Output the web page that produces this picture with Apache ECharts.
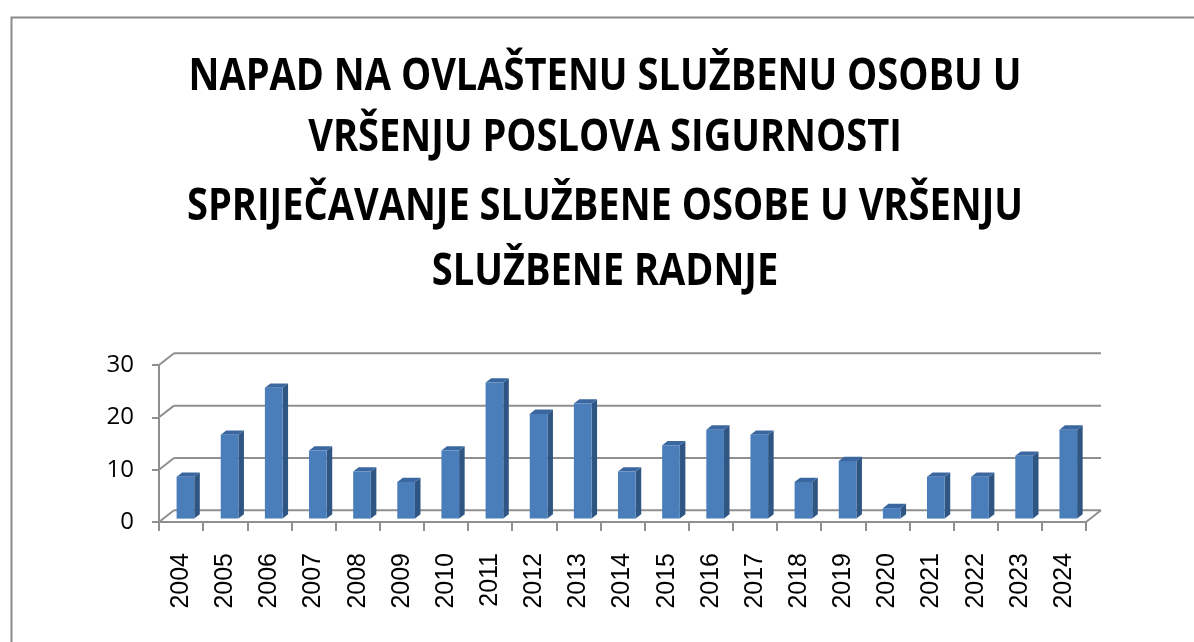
<!DOCTYPE html>
<html>
<head>
<meta charset="utf-8">
<script src="https://cdn.jsdelivr.net/npm/echarts@6/dist/echarts.min.js"></script>
<style>
  html, body { margin: 0; padding: 0; background: #ffffff; }
  #chart { width: 1194px; height: 642px; }
</style>
</head>
<body>
<div id="chart"></div>
<script>
// Yearly counts, 2004–2024
const years = ['2004', '2005', '2006', '2007', '2008', '2009', '2010', '2011', '2012', '2013', '2014',
               '2015', '2016', '2017', '2018', '2019', '2020', '2021', '2022', '2023', '2024'];
const cases = [8, 16, 25, 13, 9, 7, 13, 26, 20, 22, 9, 14, 17, 16, 7, 11, 2, 8, 8, 12, 17];
const yTicks = [0, 10, 20, 30];
const titleLines = [
  'NAPAD NA OVLAŠTENU SLUŽBENU OSOBU U',
  'VRŠENJU POSLOVA SIGURNOSTI',
  'SPRIJEČAVANJE SLUŽBENE OSOBE U VRŠENJU',
  'SLUŽBENE RADNJE'
];

// Pseudo-3D geometry (pixels / fractions)
const DEPTH_X = 15, DEPTH_Y = -11.7;   // offset from front plane to back wall
const BAR_FRONT = 0.29, BAR_BACK = 0.66; // depth fractions of bar front/back faces
const BAR_WIDTH = 0.40;                 // bar face width as share of category band
const LINE_COLOR = '#8f8f8f';

const TITLE_FONT = 'bold 40px "Open Sans", "Noto Sans", sans-serif';
const TITLE_CX = 605;
const TITLE_Y = [77, 138, 207, 272];
const TITLE_W1 = 833;
const TITLE_SCALE_Y = 1.12;

function measure(text, font) {
  const ctx = document.createElement('canvas').getContext('2d');
  ctx.font = font;
  return ctx.measureText(text).width;
}
const titleScaleX = TITLE_W1 / measure(titleLines[0], TITLE_FONT);

function renderBar(params, api) {
  const i = api.value(0), v = api.value(1);
  const band = api.size([1, 0])[0];
  const base = api.coord([i, 0]);
  const top = api.coord([i, v]);
  const w = band * BAR_WIDTH;
  const fx = DEPTH_X * BAR_FRONT, fy = DEPTH_Y * BAR_FRONT;
  const ddx = DEPTH_X * (BAR_BACK - BAR_FRONT), ddy = DEPTH_Y * (BAR_BACK - BAR_FRONT);
  const x0 = base[0] - w / 2 + fx, x1 = x0 + w;
  const yb = base[1] + fy, yt = top[1] + fy;
  return {
    type: 'group',
    children: [
      { type: 'polygon', shape: { points: [[x1, yb], [x1, yt], [x1 + ddx, yt + ddy], [x1 + ddx, yb + ddy]] },
        style: { fill: '#2f5583' } },
      { type: 'polygon', shape: { points: [[x0, yt], [x1, yt], [x1 + ddx, yt + ddy], [x0 + ddx, yt + ddy]] },
        style: { fill: '#3a679f' } },
      { type: 'rect', shape: { x: x0, y: yt, width: w, height: yb - yt },
        style: { fill: '#4a7ebb' } }
    ]
  };
}

function renderWall(params, api) {
  const cs = params.coordSys;
  const t = api.value(1);
  const y = api.coord([0, t])[1];
  const lineStyle = { stroke: LINE_COLOR, lineWidth: 2 };
  const children = [
    // side wall diagonal
    { type: 'line', shape: { x1: cs.x, y1: y, x2: cs.x + DEPTH_X, y2: y + DEPTH_Y }, style: lineStyle },
    // back wall gridline
    { type: 'line', shape: { x1: cs.x + DEPTH_X, y1: y + DEPTH_Y, x2: cs.x + cs.width + DEPTH_X, y2: y + DEPTH_Y }, style: lineStyle }
  ];
  if (t === 0) {
    // right edge of the floor
    children.push({ type: 'line', shape: { x1: cs.x + cs.width, y1: y, x2: cs.x + cs.width + DEPTH_X, y2: y + DEPTH_Y }, style: lineStyle });
  }
  return { type: 'group', children };
}

const chart = echarts.init(document.getElementById('chart'), null, { renderer: 'canvas' });

chart.setOption({
  backgroundColor: '#ffffff',
  animation: false,
  graphic: [
    { type: 'rect', left: 9, top: 15, shape: { x: 0, y: 0, width: 1200, height: 640 },
      style: { fill: 'none', stroke: '#8a8a8a', lineWidth: 2 }, silent: true }
  ].concat(titleLines.map((line, k) => ({
    type: 'text',
    x: TITLE_CX,
    y: TITLE_Y[k],
    scaleX: titleScaleX,
    scaleY: TITLE_SCALE_Y,
    style: { text: line, font: TITLE_FONT, fill: '#000000', align: 'center', verticalAlign: 'middle' }
  }))),
  grid: { left: 159, right: 108, top: 365, bottom: 120 },
  xAxis: {
    type: 'category',
    data: years,
    axisLine: { show: true, lineStyle: { color: LINE_COLOR, width: 2 } },
    axisTick: { show: true, length: 9, lineStyle: { color: LINE_COLOR, width: 2 } },
    axisLabel: { rotate: 90, margin: 31, fontSize: 25, color: '#000000', fontFamily: '"Liberation Sans", Arial, sans-serif' },
    splitLine: { show: false }
  },
  yAxis: {
    type: 'value',
    min: 0, max: 30, interval: 10,
    axisLine: { show: true, lineStyle: { color: LINE_COLOR, width: 2 } },
    axisTick: { show: true, length: 7, lineStyle: { color: LINE_COLOR, width: 2 } },
    axisLabel: { margin: 25, fontSize: 24, color: '#000000', fontFamily: '"Open Sans", sans-serif' },
    splitLine: { show: false }
  },
  series: [
    { type: 'custom', renderItem: renderWall, clip: false, z: 1, silent: true,
      data: yTicks.map(t => [0, t]) },
    { type: 'custom', renderItem: renderBar, clip: false, z: 3,
      data: cases.map((v, i) => [i, v]) }
  ]
});
</script>
</body>
</html>
